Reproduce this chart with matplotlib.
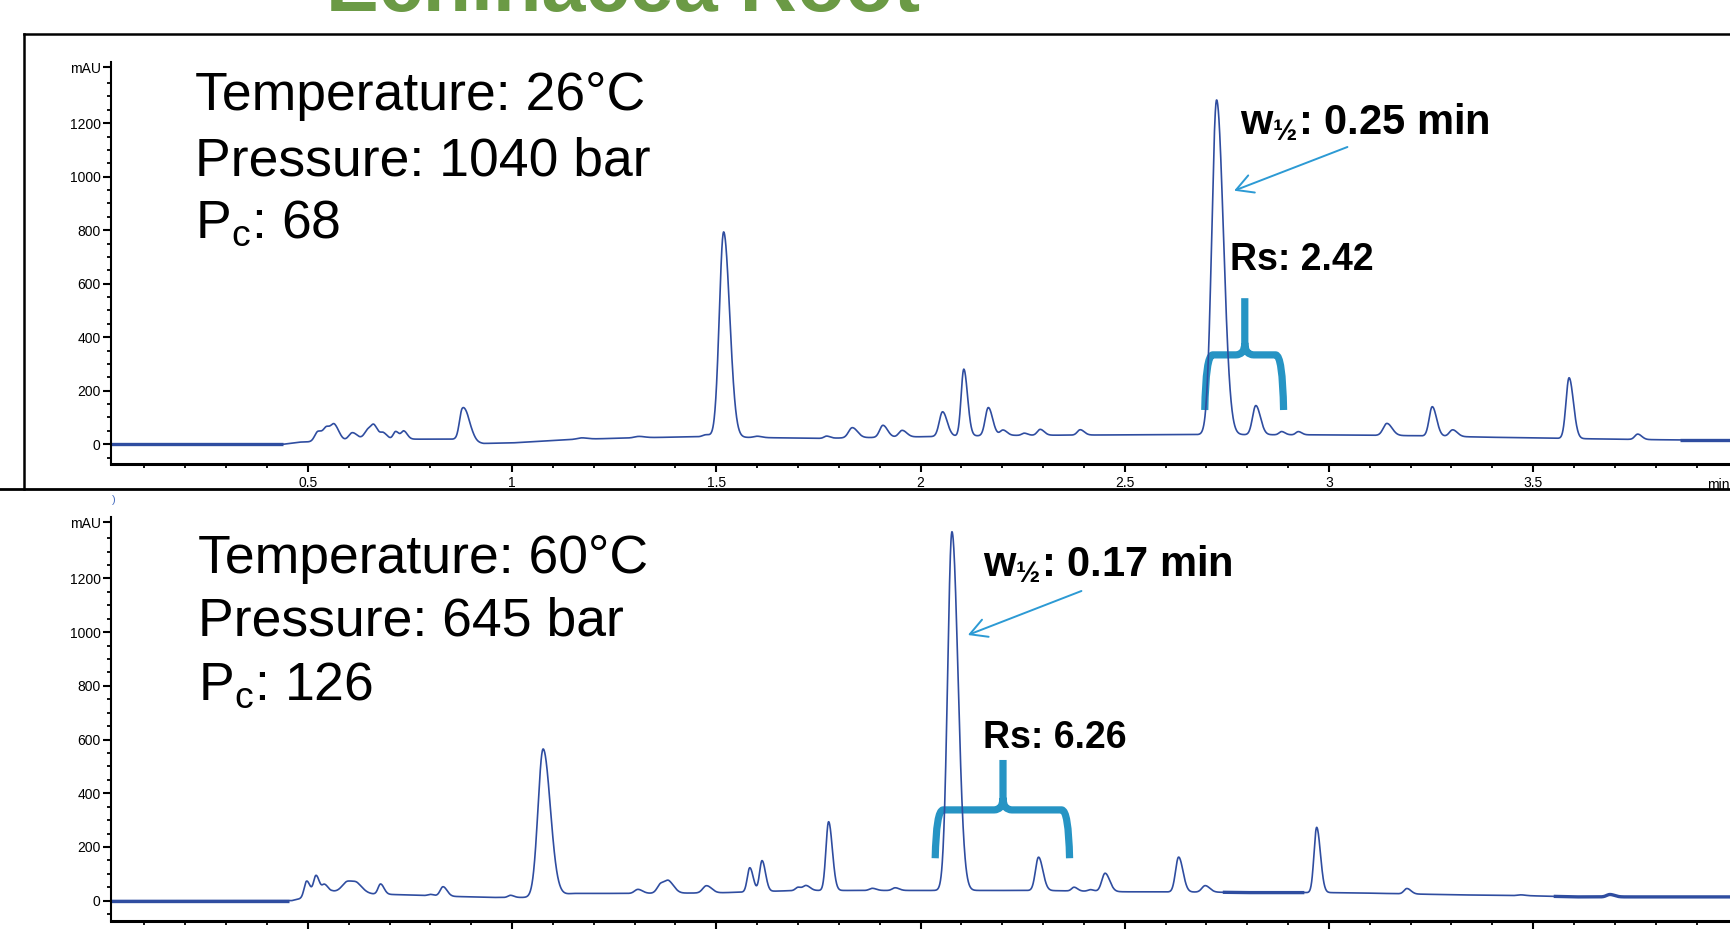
import numpy as np
import matplotlib
matplotlib.use('Agg')
import matplotlib.pyplot as plt
from matplotlib.path import Path
from matplotlib.patches import PathPatch
from matplotlib.lines import Line2D
from matplotlib.ticker import FixedLocator, MultipleLocator

plt.rcParams['font.family'] = ['Liberation Sans', 'DejaVu Sans']
plt.rcParams['mathtext.fontset'] = 'custom'
plt.rcParams['mathtext.rm'] = 'Liberation Sans'
plt.rcParams['mathtext.bf'] = 'Liberation Sans:bold'

# ---- run 1: 26 C / 1040 bar ----
top_base_t = [0.0, 0.44, 0.48, 0.75, 0.86, 0.93, 1.0, 1.15, 1.3, 1.45, 1.6, 1.75, 2.0, 2.2, 2.5, 2.7,
              3.0, 3.2, 3.4, 3.65, 3.85, 4.0]
top_base_v = [0, 0, 8, 19, 19, 3, 5, 18, 24, 28, 25, 22, 28, 33, 35, 36, 35, 32, 26, 20, 16, 16]
top_rt = [0.525, 0.547, 0.566, 0.609, 0.649, 0.663, 0.685, 0.715, 0.735, 0.878, 0.893, 1.17, 1.31,
          1.475, 1.518, 1.60, 1.77, 1.833, 1.908, 1.955, 2.054, 2.106, 2.166, 2.202, 2.254, 2.293,
          2.391, 2.725, 2.821, 2.884, 2.925, 3.142, 3.253, 3.303, 3.588, 3.756]
top_height = [38, 48, 52, 30, 42, 32, 24, 30, 30, 110, 55, 5, 5,
              8, 767, 5, 8, 38, 45, 25, 92, 250, 105, 20, 8, 22,
              20, 1251, 109, 12, 12, 45, 110, 25, 227, 20]
top_sigma = [0.008, 0.008, 0.008, 0.009, 0.010, 0.007, 0.007, 0.006, 0.006, 0.007, 0.008, 0.010, 0.010,
             0.008, 0.0105, 0.008, 0.006, 0.009, 0.008, 0.008, 0.008, 0.0065, 0.0075, 0.007, 0.006, 0.007,
             0.007, 0.0118, 0.008, 0.006, 0.006, 0.009, 0.0075, 0.008, 0.0075, 0.007]
top_flat = [(0.0, 0.44), (3.86, 4.0)]

# ---- run 2: 60 C / 645 bar ----
bot_base_t = [0.0, 0.46, 0.50, 0.56, 0.62, 0.66, 0.75, 0.85, 0.95, 1.05, 1.15, 1.3, 1.5, 1.7, 1.9,
              2.3, 2.5, 2.7, 2.8, 3.0, 3.1, 3.3, 3.5, 3.6, 4.0]
bot_base_v = [0, 0, 14, 35, 30, 25, 21, 16, 12, 12, 27, 27, 29, 38, 38, 38, 33, 32, 30, 30, 28, 22, 18,
              14, 14]
bot_rt = [0.497, 0.520, 0.541, 0.598, 0.622, 0.678, 0.80, 0.831, 0.996, 1.076, 1.308, 1.365, 1.385,
          1.476, 1.582, 1.612, 1.70, 1.720, 1.775, 1.882, 1.938, 2.077, 2.289, 2.376, 2.416, 2.452,
          2.632, 2.697, 2.970, 3.191, 3.47, 3.688]
bot_height = [60, 72, 30, 40, 20, 38, 5, 35, 8, 549, 15, 36, 36,
              27, 90, 115, 12, 18, 256, 8, 10, 1336, 124, 14, 6, 68,
              130, 24, 243, 20, 3, 9]
bot_sigma = [0.006, 0.006, 0.006, 0.013, 0.010, 0.006, 0.006, 0.007, 0.006, 0.0125, 0.008, 0.009, 0.009,
             0.009, 0.006, 0.006, 0.006, 0.007, 0.0065, 0.007, 0.007, 0.0105, 0.0075, 0.006, 0.006, 0.008,
             0.0075, 0.008, 0.0065, 0.007, 0.008, 0.008]
bot_flat = [(0.0, 0.455), (2.74, 2.94), (3.55, 4.0)]

y_major = [0, 200, 400, 600, 800, 1000, 1200, 1410]
y_labels = ['0', '200', '400', '600', '800', '1000', '1200', 'mAU']

W, H = 1730, 933
XMIN, XMAX = 0.018, 3.982
YMIN, YMAX = -75, 1430
TAIL = 1.4
LINE = '#2F4DA0'
CYAN = '#2694C4'


def trace(t, base_t, base_v, rt, height, sigma):
    y = np.interp(t, base_t, base_v)
    for r, h, s in zip(rt, height, sigma):
        s_eff = np.where(t < r, s, s * TAIL)
        y = y + h * np.exp(-0.5 * ((t - r) / s_eff) ** 2)
    return y


def setup_axes(ax, xlabels=True):
    ax.set_xlim(XMIN, XMAX)
    ax.set_ylim(YMIN, YMAX)
    for side in ('top', 'right'):
        ax.spines[side].set_visible(False)
    ax.spines['left'].set_linewidth(1.5)
    ax.spines['bottom'].set_linewidth(2.2)
    ax.yaxis.set_major_locator(FixedLocator(y_major))
    ax.set_yticklabels(y_labels)
    ax.get_yticklabels()[-1].set_fontsize(9.5)
    ax.yaxis.set_minor_locator(FixedLocator([v for v in range(-50, 1400, 50) if v % 200]))
    ax.xaxis.set_major_locator(MultipleLocator(0.5))
    ax.xaxis.set_minor_locator(MultipleLocator(0.1))
    ax.xaxis.set_major_formatter(lambda v, p: f'{v:g}')
    ax.tick_params(which='major', direction='out', length=5.5, width=1.5, labelsize=10, pad=2)
    ax.tick_params(which='minor', direction='out', length=3, width=1.3)
    ax.tick_params(axis='x', labelsize=10, pad=3, labelbottom=xlabels)
    ax.patch.set_alpha(0)


def plot_run(ax, base_t, base_v, rt, height, sigma, flat):
    t = np.linspace(XMIN, XMAX, 8000)
    y = trace(t, base_t, base_v, rt, height, sigma)
    ax.plot(t, y, color=LINE, lw=1.2, solid_joinstyle='round')
    for a, b in flat:
        m = (t >= a) & (t <= b)
        ax.plot(t[m], y[m], color=LINE, lw=2.4, solid_capstyle='butt')


def draw_brace(ax, x0, x1, xc, ybot, ybar, ytip):
    # sizes given in pixels, turned into data units of this axes
    px_x = (XMAX - XMIN) / (W - 111)
    px_y = (YMAX - YMIN) / 403.0
    leg, bend = 8 * px_x, 9 * px_x
    rise = 12 * px_y
    verts = [(x0, ybot), (x0 + 1 * px_x, ybar), (x0 + leg, ybar), (xc - bend, ybar), (xc, ybar),
             (xc, ybar + rise), (xc, ytip),
             (x1, ybot), (x1 - 1 * px_x, ybar), (x1 - leg, ybar), (xc + bend, ybar), (xc, ybar),
             (xc, ybar + rise)]
    codes = [Path.MOVETO, Path.CURVE3, Path.CURVE3, Path.LINETO, Path.CURVE3, Path.CURVE3, Path.LINETO,
             Path.MOVETO, Path.CURVE3, Path.CURVE3, Path.LINETO, Path.CURVE3, Path.CURVE3]
    ax.add_patch(PathPatch(Path(verts, codes), fill=False, edgecolor=CYAN, lw=5.2,
                           capstyle='butt', joinstyle='round', clip_on=False))


def put(x, y, s, **kw):
    return fig.text(x / W, 1 - y / H, s, va='baseline', ha='left', **kw)


def arrow(x_from, y_from, x_to, y_to):
    fig.add_artist(matplotlib.patches.FancyArrowPatch(
        (x_from / W, 1 - y_from / H), (x_to / W, 1 - y_to / H), transform=fig.transFigure,
        arrowstyle='->, head_length=1.0, head_width=0.55', mutation_scale=12,
        color='#2C9AD4', lw=1.4))


fig = plt.figure(figsize=(W / 100, H / 100), dpi=100)

ax_top = fig.add_axes([111 / W, 1 - 464.3 / H, (W - 111) / W, 402.6 / H])
ax_bot = fig.add_axes([111 / W, 1 - 920.8 / H, (W - 111) / W, 404.1 / H])
setup_axes(ax_top)
setup_axes(ax_bot, xlabels=False)

plot_run(ax_top, top_base_t, top_base_v, top_rt, top_height, top_sigma, top_flat)
plot_run(ax_bot, bot_base_t, bot_base_v, bot_rt, bot_height, bot_sigma, bot_flat)

draw_brace(ax_top, 2.696, 2.889, 2.794, 128, 334, 546)
draw_brace(ax_bot, 2.036, 2.365, 2.202, 158, 338, 524)

# slide frame and divider
fig.add_artist(Line2D([24 / W, 1], [1 - 33.5 / H] * 2, transform=fig.transFigure, color='black', lw=1.8))
fig.add_artist(Line2D([24 / W] * 2, [1 - 33.5 / H, 1 - 489 / H], transform=fig.transFigure,
                      color='black', lw=1.8))
fig.add_artist(Line2D([0, 1], [1 - 489 / H] * 2, transform=fig.transFigure, color='black', lw=2))

put(326, 11, 'Echinacea Root', fontsize=57, fontweight='bold', color='#6B9A45')
put(1707, 489, 'min', fontsize=10)
put(112, 503, ')', fontsize=8, color='#4A6FC0')

big = dict(fontsize=38.5, color='black')
put(195, 110, 'Temperature: 26°C', **big)
put(195, 175, 'Pressure: 1040 bar', **big)
put(195, 238.5, r'P$_{\mathregular{c}}$: 68', **big)
put(198, 572.7, 'Temperature: 60°C', **big)
put(198, 636, 'Pressure: 645 bar', **big)
put(198, 700, r'P$_{\mathregular{c}}$: 126', **big)

put(1240, 134, r'w$_{\mathregular{½}}$: 0.25 min', fontsize=30, fontweight='bold')
put(1230, 270, 'Rs: 2.42', fontsize=27, fontweight='bold')
put(983, 576, r'w$_{\mathregular{½}}$: 0.17 min', fontsize=30, fontweight='bold')
put(983, 748, 'Rs: 6.26', fontsize=27, fontweight='bold')

arrow(1350, 146, 1231.5, 191.7)
arrow(1084, 590, 965.3, 636)

fig.savefig('out.png', dpi=100)
